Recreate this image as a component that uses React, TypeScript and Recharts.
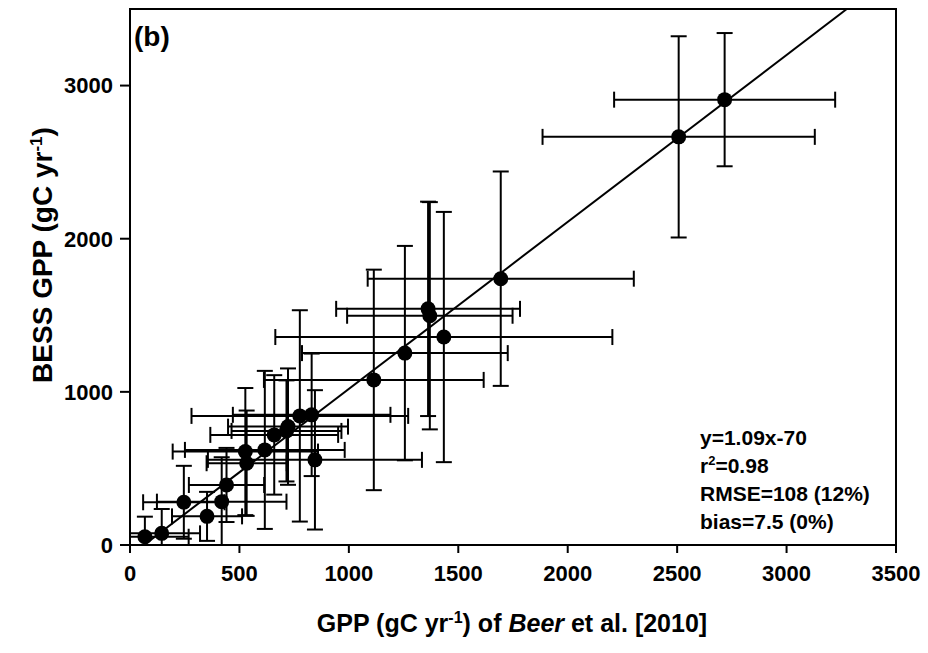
import React from "react";
import {
  ScatterChart,
  Scatter,
  XAxis,
  YAxis,
  ErrorBar,
  ReferenceLine,
  ReferenceArea,
  Label,
} from "recharts";

// GPP per site: Beer et al. [2010] (x) vs BESS (y), with 1-sigma ranges
const beerGpp = [2717, 2507, 1694, 1434, 1362, 1370, 1256, 1114, 845, 830, 776, 722, 715, 659, 616, 533, 527, 441, 419, 352, 246, 145, 68];
const bessGpp = [2908, 2665, 1739, 1358, 1542, 1497, 1253, 1078, 556, 850, 843, 773, 745, 719, 621, 534, 610, 392, 283, 187, 279, 76, 54];
const beerErr = [505, 622, 608, 770, 420, 378, 470, 502, 489, 360, 495, 274, 251, 292, 365, 183, 332, 172, 296, 160, 186, 175, 200];
const bessErr = [435, 657, 700, 817, 700, 742, 700, 720, 455, 400, 690, 380, 330, 390, 516, 344, 415, 242, 290, 160, 238, 159, 131];

const xTicks = [0, 500, 1000, 1500, 2000, 2500, 3000, 3500];
const yTicks = [0, 1000, 2000, 3000];

// regression fit
const slope = 1.09;
const intercept = -70;
const fitLabel = "y=1.09x-70";
const r2Label = "=0.98";
const rmseLabel = "RMSE=108 (12%)";
const biasLabel = "bias=7.5 (0%)";

const AXIS_MAX = 3500;
const FONT = '"Liberation Sans", Arial, Helvetica, sans-serif';

// error ranges are cut at the axes (the frame clips them in the original)
const data = beerGpp.map((x, i) => ({
  x,
  y: bessGpp[i],
  ex: [Math.min(beerErr[i], x), beerErr[i]],
  ey: [Math.min(bessErr[i], bessGpp[i]), bessErr[i]],
}));

const fitSegment = [
  { x: -intercept / slope, y: 0 },
  { x: (AXIS_MAX - intercept) / slope, y: AXIS_MAX },
];

const tickStyle = { fill: "#000", fontSize: 22, fontWeight: 700, fontFamily: FONT };

function Dot(props: any) {
  return <circle cx={props.cx} cy={props.cy} r={7.5} fill="#000" />;
}

function XTitle() {
  return (
    <text x={512} y={632} textAnchor="middle" fontFamily={FONT} fontWeight={700} fontSize={25} fill="#000">
      GPP (gC yr<tspan dy={-9} fontSize={16}>-1</tspan>
      <tspan dy={9}>) of </tspan>
      <tspan fontStyle="italic">Beer</tspan>
      <tspan> et al. [2010]</tspan>
    </text>
  );
}

function YTitle() {
  return (
    <text
      x={0}
      y={0}
      transform="translate(52, 255) rotate(-90)"
      textAnchor="middle"
      fontFamily={FONT}
      fontWeight={700}
      fontSize={28}
      fill="#000"
    >
      BESS GPP (gC yr<tspan dy={-10} fontSize={17}>-1</tspan>
      <tspan dy={10}>)</tspan>
    </text>
  );
}

export default function App() {
  return (
    <div
      style={{
        position: "absolute",
        left: 0,
        top: 0,
        width: 928,
        height: 653,
        background: "#fff",
        fontFamily: FONT,
      }}
    >
      <ScatterChart width={928} height={653} margin={{ top: 9, right: 32, bottom: 0, left: 0 }}>
        <XAxis
          type="number"
          dataKey="x"
          domain={[0, AXIS_MAX]}
          ticks={xTicks}
          allowDataOverflow
          height={108}
          tickSize={8}
          tickMargin={12}
          stroke="#000"
          strokeWidth={2}
          tick={tickStyle}
          interval={0}
        >
          <Label content={XTitle} />
        </XAxis>
        <YAxis
          type="number"
          dataKey="y"
          domain={[0, AXIS_MAX]}
          ticks={yTicks}
          allowDataOverflow
          width={130}
          tickSize={10}
          tickMargin={7}
          stroke="#000"
          strokeWidth={2}
          tick={tickStyle}
          interval={0}
        >
          <Label content={YTitle} />
        </YAxis>
        <ReferenceArea
          x1={0}
          x2={AXIS_MAX}
          y1={0}
          y2={AXIS_MAX}
          fill="none"
          fillOpacity={0}
          stroke="#000"
          strokeWidth={2}
          strokeOpacity={1}
        />
        <ReferenceLine segment={fitSegment} stroke="#000" strokeWidth={2} ifOverflow="hidden" />
        <Scatter data={data} isAnimationActive={false} shape={Dot}>
          <ErrorBar dataKey="ex" direction="x" width={8} stroke="#000" strokeWidth={2} isAnimationActive={false} />
          <ErrorBar dataKey="ey" direction="y" width={8} stroke="#000" strokeWidth={2} isAnimationActive={false} />
        </Scatter>
      </ScatterChart>

      <div
        style={{
          position: "absolute",
          left: 134,
          top: 21,
          fontSize: 28,
          fontWeight: 700,
          lineHeight: "32px",
        }}
      >
        (b)
      </div>

      <div
        style={{
          position: "absolute",
          left: 700,
          top: 424,
          fontSize: 21,
          fontWeight: 700,
          lineHeight: "28px",
          whiteSpace: "nowrap",
        }}
      >
        <div>{fitLabel}</div>
        <div>
          r<sup style={{ fontSize: 13, lineHeight: 0 }}>2</sup>
          {r2Label}
        </div>
        <div>{rmseLabel}</div>
        <div>{biasLabel}</div>
      </div>
    </div>
  );
}
